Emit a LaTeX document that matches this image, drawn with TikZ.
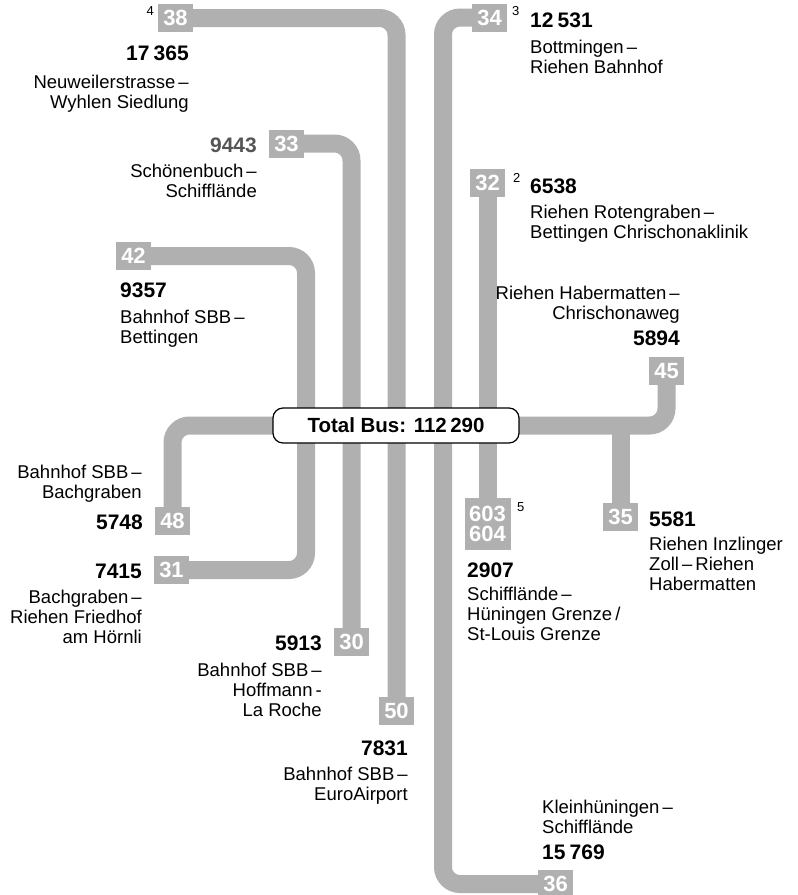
\documentclass[tikz,border=0pt]{standalone}
\usepackage{fontspec}
\setmainfont{Liberation Sans}
\definecolor{lg}{HTML}{B0B0B0}
\definecolor{numgray}{HTML}{555555}
\newcommand\rtab[1]{\begin{tabular}[t]{@{}r@{}}#1\end{tabular}}
\newcommand\ltab[1]{\begin{tabular}[t]{@{}l@{}}#1\end{tabular}}
\pgfdeclarelayer{bg}
\pgfsetlayers{bg,main}
\begin{document}
\begin{tikzpicture}[x=1pt,y=-1pt,
  route/.style={line width=18pt, draw=lg, rounded corners=17pt},
  rbox/.style={fill=lg, text=white, font=\bfseries\fontsize{22}{20}\selectfont, minimum width=35pt, minimum height=28pt, inner sep=0pt},
  num/.style={font=\bfseries\fontsize{21}{22}\selectfont, inner sep=0pt},
  desc/.style={font=\fontsize{18.5}{20}\selectfont, inner sep=0pt},
  fnote/.style={font=\fontsize{13}{14}\selectfont, inner sep=0pt}]
\useasboundingbox (0,0) rectangle (798,895);
% route boxes
\node[rbox] (b38) at (175.5,18) {38};
\node[rbox] (b33) at (286.5,143.5) {33};
\node[rbox] (b42) at (133.5,256) {42};
\node[rbox] (b48) at (172.5,520.5) {48};
\node[rbox] (b31) at (171.5,570) {31};
\node[rbox] (b30) at (351.5,642) {30};
\node[rbox] (b50) at (396.5,710.5) {50};
\node[rbox] (b34) at (489.5,17.5) {34};
\node[rbox] (b32) at (487.5,183) {32};
\node[rbox] (b45) at (666.5,371) {45};
\node[rbox] (b35) at (620.5,517) {35};
\node[rbox] (b36) at (555.5,884) {36};
\node[rbox, minimum width=46pt, minimum height=52pt, align=center] (b603) at (487.5,524) {603\\604};
% total
\node[draw=black, line width=1.2pt, fill=white, rounded corners=10pt, minimum width=246pt, minimum height=35pt, font=\bfseries\fontsize{20.5}{22}\selectfont, inner sep=0pt] (tot) at (396,425.5) {Total Bus: 112\,290};
\coordinate (k42) at (306,0);
\coordinate (k34) at (443,0);
\begin{pgfonlayer}{bg}
\draw[route] (b38.center) -- (b38.center -| b50.center) -- (b50.center);
\draw[route] (b33.center) -- (b33.center -| b30.center) -- (b30.center);
\draw[route] (b42.center) -- (b42.center -| k42) -- (b31.center -| k42) -- (b31.center);
\draw[route] (tot.center) -- (tot.center -| b48.center) -- (b48.center);
\draw[route] (b34.center) -- (b34.center -| k34) -- (b36.center -| k34) -- (b36.center);
\draw[route] (b32.center) -- (b603.center);
\draw[route] (tot.center) -- (tot.center -| b45.center) -- (b45.center);
\draw[route, rounded corners=0pt] (b35.center |- tot.center) -- (b35.center);
\end{pgfonlayer}
% labels left
\node[fnote, anchor=base east] (f4) at (154,15) {4};
\node[num, anchor=base east] (n38) at (189,60) {17\hspace{.2em}365};
\node[desc, anchor=base east] (d38) at (189,88) {\rtab{Neuweilerstrasse\,–\\Wyhlen Siedlung}};
\node[num, text=numgray, anchor=base east] (n33) at (257,152) {9443};
\node[desc, anchor=base east] (d33) at (257,177) {\rtab{Schönenbuch\,–\\Schifflände}};
\node[num, anchor=base west] (n42) at (120,297) {9357};
\node[desc, anchor=base west] (d42) at (120,323) {\ltab{Bahnhof SBB\,–\\Bettingen}};
\node[desc, anchor=base east] (d48) at (142,478) {\rtab{Bahnhof SBB\,–\\Bachgraben}};
\node[num, anchor=base east] (n48) at (143,529) {5748};
\node[num, anchor=base east] (n31) at (142,578) {7415};
\node[desc, anchor=base east] (d31) at (142,603) {\rtab{Bachgraben\,–\\Riehen Friedhof\\am Hörnli}};
\node[num, anchor=base east] (n30) at (322,650) {5913};
\node[desc, anchor=base east] (d30) at (322,676) {\rtab{Bahnhof SBB\,–\\Hoffmann\,-\\La Roche}};
\node[num, anchor=base east] (n50) at (408,755) {7831};
\node[desc, anchor=base east] (d50) at (408,780) {\rtab{Bahnhof SBB\,–\\EuroAirport}};
% labels right
\node[fnote, anchor=base west] (f3) at (512,15) {3};
\node[num, anchor=base west] (n34) at (530,27) {12\hspace{.2em}531};
\node[desc, anchor=base west] (d34) at (530,53) {\ltab{Bottmingen\,–\\Riehen Bahnhof}};
\node[fnote, anchor=base west] (f2) at (513,182) {2};
\node[num, anchor=base west] (n32) at (530,193) {6538};
\node[desc, anchor=base west] (d32) at (530,218) {\ltab{Riehen Rotengraben\,–\\Bettingen Chrischonaklinik}};
\node[desc, anchor=base east] (d45) at (680,299) {\rtab{Riehen Habermatten\,–\\Chrischonaweg}};
\node[num, anchor=base east] (n45) at (680,345) {5894};
\node[fnote, anchor=base west] (f5) at (517,511) {5};
\node[num, anchor=base west] (n603) at (467,577) {2907};
\node[desc, anchor=base west] (d603) at (467,600) {\ltab{Schifflände\,–\\Hüningen Grenze\,/\\St-Louis Grenze}};
\node[num, anchor=base west] (n35) at (649,526) {5581};
\node[desc, anchor=base west] (d35) at (649,550) {\ltab{Riehen Inzlinger\\Zoll\,–\,Riehen\\Habermatten}};
\node[desc, anchor=base west] (d36) at (542,813) {\ltab{Kleinhüningen\,–\\Schifflände}};
\node[num, anchor=base west] (n36) at (542,859) {15\hspace{.2em}769};
\end{tikzpicture}
\end{document}
